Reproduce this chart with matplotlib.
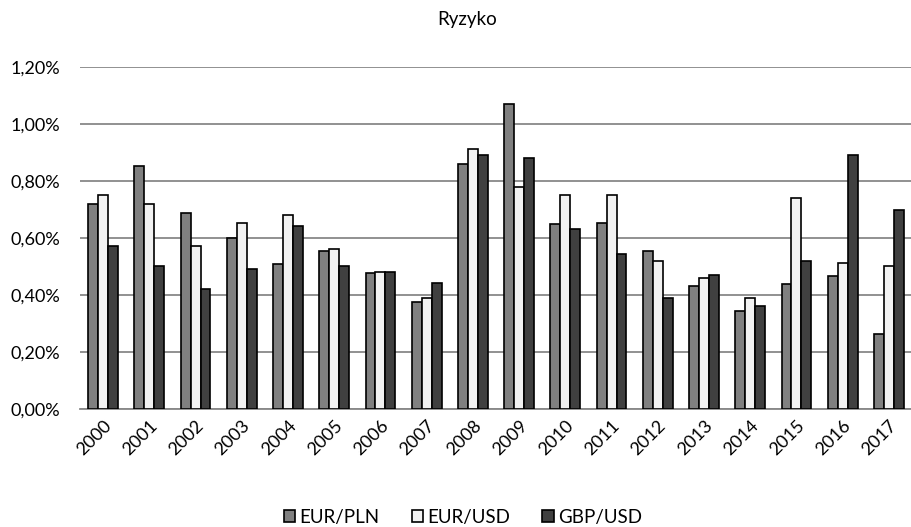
import matplotlib
matplotlib.use("Agg")
import matplotlib.pyplot as plt
import numpy as np
from matplotlib.ticker import FuncFormatter

years = [str(y) for y in range(2000, 2018)]
eur_pln = [0.718, 0.850, 0.688, 0.598, 0.506, 0.554, 0.475, 0.374, 0.857, 1.069,
           0.647, 0.650, 0.552, 0.429, 0.344, 0.439, 0.465, 0.263]
eur_usd = [0.749, 0.719, 0.570, 0.650, 0.680, 0.560, 0.480, 0.389, 0.910, 0.779,
           0.749, 0.749, 0.519, 0.460, 0.389, 0.740, 0.510, 0.499]
gbp_usd = [0.570, 0.499, 0.420, 0.490, 0.641, 0.499, 0.480, 0.440, 0.890, 0.880,
           0.629, 0.542, 0.389, 0.469, 0.360, 0.519, 0.889, 0.698]
series_names = ["EUR/PLN", "EUR/USD", "GBP/USD"]
colors = ["#808080", "#f2f2f2", "#404040"]

plt.rcParams['font.family'] = ['Lato', 'DejaVu Sans']

fig = plt.figure(figsize=(9.12, 5.27), dpi=100)
ax = fig.add_axes([80 / 912, 1 - 408.7 / 527, 832 / 912, 342 / 527])

x = np.arange(len(years))
w = 0.215
for i, (vals, name, c) in enumerate(zip([eur_pln, eur_usd, gbp_usd], series_names, colors)):
    ax.bar(x + (i - 1) * w, vals, width=w, color=c, edgecolor="black",
           linewidth=1.2, label=name, zorder=3)

ax.set_xlim(-0.5, len(years) - 0.5)
ax.set_ylim(0, 1.2)
ax.set_yticks(np.arange(0, 1.21, 0.2))
ax.yaxis.set_major_formatter(FuncFormatter(lambda v, p: f"{v:.2f}%".replace(".", ",")))
ax.grid(axis="y", color="#888888", linewidth=1.3, zorder=0)
for s in ["top", "right", "left"]:
    ax.spines[s].set_visible(False)
ax.spines["bottom"].set_color("#888888")
ax.spines["bottom"].set_linewidth(1.3)
ax.tick_params(axis="both", length=0, labelsize=13, colors="black")
ax.tick_params(axis="y", pad=14)
ax.tick_params(axis="x", pad=6)
ax.set_xticks(x)
ax.set_xticklabels(years, rotation=45, ha="right", rotation_mode="anchor")

fig.text(467 / 912, 1 - 19 / 527, "Ryzyko", ha="center", va="center", fontsize=13.5)

fig.legend(*ax.get_legend_handles_labels(), loc="center",
           bbox_to_anchor=(463 / 912, 1 - 517 / 527), ncol=3, frameon=False,
           fontsize=13.5, handlelength=0.6, handleheight=0.6, handletextpad=0.25,
           columnspacing=1.7, borderaxespad=0, borderpad=0)

fig.savefig("out.png", dpi=100)
